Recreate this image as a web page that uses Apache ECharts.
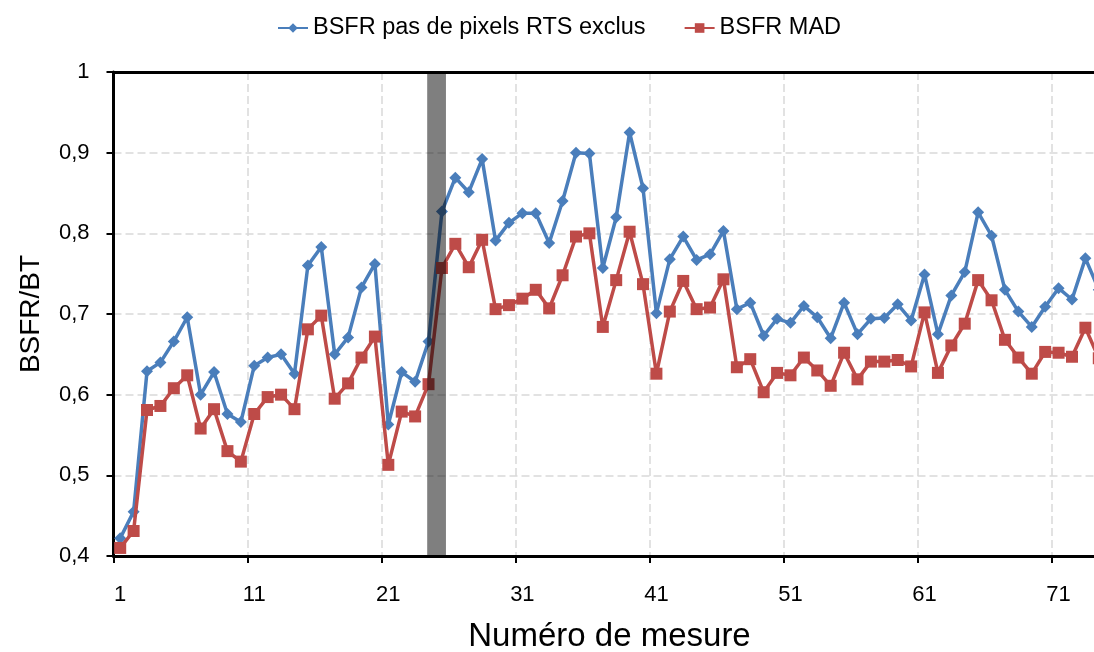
<!DOCTYPE html>
<html>
<head>
<meta charset="utf-8">
<script src="https://cdn.jsdelivr.net/npm/echarts@6/dist/echarts.min.js"></script>
<style>
  html, body { margin: 0; padding: 0; background: #fff; }
  #chart { width: 1094px; height: 652px; }
</style>
</head>
<body>
<div id="chart"></div>
<script>
// Measurement numbers 1..74
const measures = Array.from({ length: 74 }, (_, i) => String(i + 1));

// BSFR/BT without RTS pixel exclusion
const bsfrNoRts = [
  0.422, 0.455, 0.629, 0.640, 0.666, 0.696, 0.600, 0.628, 0.576, 0.566,
  0.636, 0.646, 0.650, 0.626, 0.760, 0.783, 0.650, 0.671, 0.733, 0.762,
  0.563, 0.628, 0.616, 0.666, 0.827, 0.869, 0.851, 0.892, 0.791, 0.813,
  0.825, 0.825, 0.788, 0.840, 0.900, 0.899, 0.757, 0.820, 0.925, 0.856,
  0.701, 0.768, 0.796, 0.767, 0.774, 0.803, 0.706, 0.714, 0.673, 0.694,
  0.689, 0.710, 0.696, 0.670, 0.714, 0.675, 0.694, 0.695, 0.712, 0.692,
  0.749, 0.675, 0.723, 0.752, 0.826, 0.797, 0.730, 0.703, 0.684, 0.709,
  0.732, 0.718, 0.769, 0.730
];

// BSFR/BT with MAD filtering
const bsfrMad = [
  0.410, 0.431, 0.581, 0.586, 0.608, 0.624, 0.558, 0.582, 0.530, 0.517,
  0.576, 0.597, 0.600, 0.582, 0.681, 0.698, 0.595, 0.614, 0.646, 0.672,
  0.513, 0.579, 0.573, 0.613, 0.757, 0.787, 0.758, 0.792, 0.706, 0.711,
  0.719, 0.730, 0.707, 0.748, 0.796, 0.800, 0.684, 0.742, 0.802, 0.737,
  0.626, 0.703, 0.741, 0.706, 0.708, 0.743, 0.634, 0.644, 0.603, 0.627,
  0.624, 0.646, 0.630, 0.611, 0.652, 0.619, 0.641, 0.641, 0.643, 0.635,
  0.702, 0.627, 0.661, 0.688, 0.742, 0.717, 0.668, 0.646, 0.626, 0.653,
  0.652, 0.647, 0.683, 0.645
];

// Shaded transition band between measurements 24 and 25 (measurement units)
const bandRange = [23.9, 25.3];

const seriesNames = ['BSFR pas de pixels RTS exclus', 'BSFR MAD'];
const FONT = "'Liberation Sans', Arial, sans-serif";
const BLUE = '#4a7ebb';
const RED = '#be4b48';

const chart = echarts.init(document.getElementById('chart'), null, { renderer: 'canvas' });

const gridDash = { color: '#d9d9d9', width: 1.5, type: [8, 4] };

chart.setOption({
  animation: false,
  backgroundColor: '#fff',
  textStyle: { fontFamily: FONT },
  legend: {
    data: seriesNames,
    top: 11,
    left: 272,
    itemWidth: 30,
    itemHeight: 12,
    itemGap: 38,
    textStyle: { fontSize: 23.5, color: '#000', fontFamily: FONT }
  },
  grid: {
    left: 113.5,
    width: 992,
    top: 72,
    bottom: 96,
    show: false,
    containLabel: false,
    outerBoundsMode: 'none'
  },
  xAxis: [
    {
      type: 'category',
      data: measures,
      boundaryGap: true,
      name: 'Numéro de mesure',
      nameLocation: 'middle',
      nameGap: 64,
      nameTextStyle: { fontSize: 33, color: '#000', fontFamily: FONT },
      axisLine: { lineStyle: { color: '#000', width: 3 } },
      axisTick: { show: true, interval: 9, length: 7, lineStyle: { color: '#000', width: 2 } },
      axisLabel: { interval: 9, fontSize: 22, color: '#000', margin: 28, fontFamily: FONT },
      splitLine: { show: true, interval: 9, lineStyle: gridDash }
    },
    {
      // hidden measurement scale for the shaded band; its line frames the top of the plot
      type: 'value',
      position: 'top',
      min: 0.5,
      max: 74.5,
      axisLine: { show: true, onZero: false, lineStyle: { color: '#000', width: 3 } },
      axisTick: { show: false },
      axisLabel: { show: false },
      splitLine: { show: false }
    }
  ],
  yAxis: {
    type: 'value',
    min: 0.4,
    max: 1,
    interval: 0.1,
    name: 'BSFR/BT',
    nameLocation: 'middle',
    nameGap: 68,
    nameTextStyle: { fontSize: 28, color: '#000', fontFamily: FONT },
    axisLine: { show: true, lineStyle: { color: '#000', width: 3 } },
    axisTick: { show: true, length: 7, lineStyle: { color: '#000', width: 2 } },
    axisLabel: {
      fontSize: 22,
      color: '#000',
      margin: 24,
      fontFamily: FONT,
      formatter: v => String(Math.round(v * 10) / 10).replace('.', ',')
    },
    splitLine: { show: true, showMaxLine: false, showMinLine: false, lineStyle: gridDash }
  },
  series: [
    {
      name: seriesNames[0],
      type: 'line',
      data: bsfrNoRts,
      symbol: 'diamond',
      symbolSize: 12,
      showAllSymbol: true,
      lineStyle: { color: BLUE, width: 3.5 },
      itemStyle: { color: BLUE },
      z: 2
    },
    {
      name: seriesNames[1],
      type: 'line',
      data: bsfrMad,
      symbol: 'rect',
      symbolSize: 12,
      showAllSymbol: true,
      lineStyle: { color: RED, width: 3.5 },
      itemStyle: { color: RED },
      z: 3
    },
    {
      name: 'band',
      type: 'custom',
      xAxisIndex: 1,
      yAxisIndex: 0,
      z: 10,
      silent: true,
      data: [bandRange],
      renderItem: function (params, api) {
        const p0 = api.coord([api.value(0), 1]);
        const p1 = api.coord([api.value(1), 0.4]);
        return {
          type: 'rect',
          shape: { x: p0[0], y: p0[1], width: p1[0] - p0[0], height: p1[1] - p0[1] },
          style: { fill: 'rgba(0,0,0,0.5)' }
        };
      }
    }
  ]
});
</script>
</body>
</html>
